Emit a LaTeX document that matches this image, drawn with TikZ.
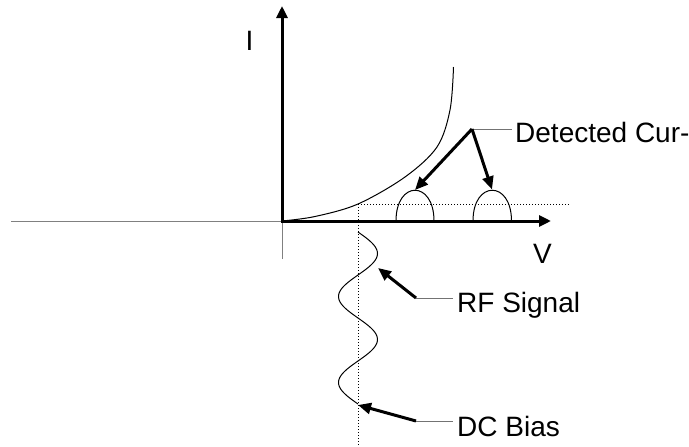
\documentclass[tikz,border=0pt]{standalone}
\usepackage{fontspec}
\setmainfont{Liberation Sans}
\usetikzlibrary{arrows.meta}
\begin{document}
\begin{tikzpicture}[x=1pt,y=-1pt,
  axis/.style={line width=3pt,-{Triangle[length=12pt,width=11pt]}},
  thinaxis/.style={line width=1pt,draw=black!50},
  curvestyle/.style={line width=1pt},
  ptr/.style={line width=3pt,-{Triangle[length=13pt,width=11pt]}},
  leader/.style={line width=1pt,draw=black!55},
  dotline/.style={line width=1pt,dash pattern=on 1pt off 2pt},
  lbl/.style={inner sep=0pt,anchor=base west,font=\fontsize{28}{34}\selectfont}]
\useasboundingbox (0,0) rectangle (689,447);

% key points
\coordinate (O) at (282,221);
\coordinate (Ox) at (280.5,221);
\coordinate (ytop) at (282,6);
\coordinate (ylow) at (282,259);
\coordinate (xend) at (551,221);
\coordinate (xleft) at (11,221);
\coordinate (P) at (358,204);
\coordinate (dotbottom) at (358,447);
\coordinate (dotright) at (570,204);

% axes
\draw[thinaxis] (xleft) -- (O);
\draw[thinaxis] (ylow) -- (O);
\draw[axis] (O) -- (ytop);
\draw[axis] (Ox) -- (xend);

% diode curve
\draw[curvestyle] plot[smooth,tension=0.55] coordinates {(282,221) (315,216.5) (358,204) (405,177) (437,147) (450,110) (453.5,67)};

% dotted guides
\draw[dotline] (P) -- (dotbottom);
\draw[dotline] (P) -- (dotright);

% detected current pulses
\coordinate (b1l) at (396,221);
\coordinate (b1r) at (434,221);
\coordinate (b2l) at (473,221);
\coordinate (b2r) at (511.5,221);
\draw[curvestyle] (b1l) .. controls (396,180) and (434,180) .. (b1r);
\draw[curvestyle] (b2l) .. controls (473,180) and (511.5,180) .. (b2r);
\coordinate (b1top) at (415,190);
\coordinate (b2top) at (492,189.5);

% RF signal
\draw[curvestyle] plot[smooth,domain=232:404,samples=80,variable=\t] ({358+19.5*sin(4.186*(\t-232))},\t);

% labels
\node[lbl] (ilab) at (245.5,50) {I};
\node[lbl] (vlab) at (533,263) {V};
\node[lbl] (det) at (515,142) {Detected Cur-};
\node[lbl] (rf) at (457,312) {RF Signal};
\node[lbl] (dc) at (457,436) {DC Bias};

% leaders and pointers
\coordinate (detk) at (472,129);
\coordinate (detl) at (512,129);
\draw[leader] (detk) -- (detl);
\draw[ptr] (detk) -- (b1top);
\draw[ptr] (detk) -- (b2top);

\coordinate (rfk) at (416,298);
\coordinate (rfl) at (453,298);
\coordinate (rftip) at (378,268);
\draw[leader] (rfk) -- (rfl);
\draw[ptr] (rfk) -- (rftip);

\coordinate (dck) at (416,421);
\coordinate (dcl) at (453,421);
\coordinate (dctip) at (358,405);
\draw[leader] (dck) -- (dcl);
\draw[ptr] (dck) -- (dctip);
\end{tikzpicture}
\end{document}
